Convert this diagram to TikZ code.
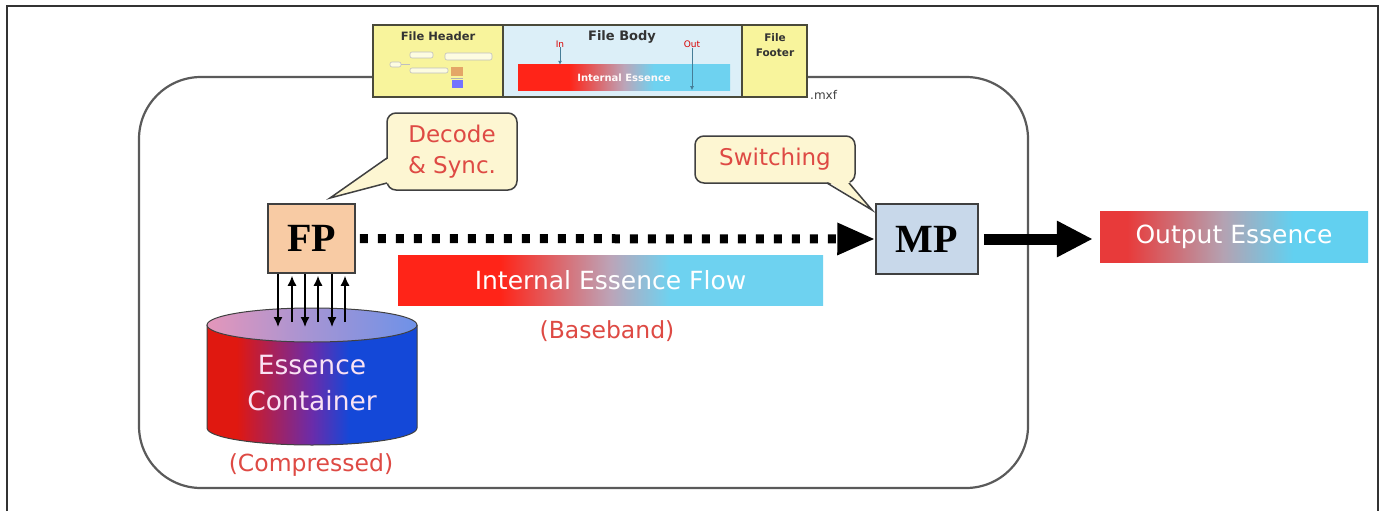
\documentclass[tikz,border=0pt]{standalone}
\usepackage{fontspec}
\setmainfont{DejaVu Sans}
\newfontfamily\timesfont{Liberation Serif}
\usetikzlibrary{arrows.meta,calc}

% palette
\definecolor{frameline}{HTML}{333333}
\definecolor{roundline}{HTML}{5A5A5A}
\definecolor{fpfill}{HTML}{F8CBA4}
\definecolor{mpfill}{HTML}{C8D8EA}
\definecolor{boxline}{HTML}{404040}
\definecolor{calloutfill}{HTML}{FDF6D2}
\definecolor{labelred}{HTML}{DE4A44}
\definecolor{hdrfill}{HTML}{F8F49C}
\definecolor{bodyfill}{HTML}{DCEFF8}
\definecolor{barline}{HTML}{4A4A3A}
\definecolor{fred}{HTML}{FF2418}
\definecolor{fmid}{HTML}{BCA4B8}
\definecolor{fcyan}{HTML}{6ED2F0}
\definecolor{ored}{HTML}{E83A3A}
\definecolor{omid}{HTML}{B4A2B2}
\definecolor{ocyan}{HTML}{62D0F0}
\definecolor{cred}{HTML}{E01810}
\definecolor{cpurple}{HTML}{6A2CAA}
\definecolor{cblue}{HTML}{1448D8}
\definecolor{ctopl}{HTML}{E496BA}
\definecolor{ctopm}{HTML}{A494D4}
\definecolor{ctopr}{HTML}{6E92E8}
\definecolor{esstext}{HTML}{FAE2F4}

% horizontal colour ramps (path box maps onto 25bp..75bp)
\pgfdeclarehorizontalshading{flowshade}{100bp}{color(0bp)=(fred); color(25bp)=(fred); color(37bp)=(fred); color(50bp)=(fmid); color(57bp)=(fcyan); color(75bp)=(fcyan); color(100bp)=(fcyan)}
\pgfdeclarehorizontalshading{outshade}{100bp}{color(0bp)=(ored); color(25bp)=(ored); color(30bp)=(ored); color(48bp)=(omid); color(61bp)=(ocyan); color(75bp)=(ocyan); color(100bp)=(ocyan)}
\pgfdeclarehorizontalshading{cylshade}{100bp}{color(0bp)=(cred); color(25bp)=(cred); color(32bp)=(cred); color(50bp)=(cpurple); color(59bp)=(cblue); color(75bp)=(cblue); color(100bp)=(cblue)}
\pgfdeclarehorizontalshading{cyltopshade}{100bp}{color(0bp)=(ctopl); color(25bp)=(ctopl); color(50bp)=(ctopm); color(75bp)=(ctopr); color(100bp)=(ctopr)}

\tikzset{
  procbox/.style={draw=boxline, line width=1.5pt, inner sep=0pt,
    font=\timesfont\bfseries\fontsize{40}{40}\selectfont},
  calloutbox/.style={draw=boxline, fill=calloutfill, line width=1.5pt,
    rounded corners=9pt, inner sep=0pt, align=center, text=labelred,
    font=\fontsize{23}{31}\selectfont},
  rampbar/.style={inner sep=0pt, text=white, font=\fontsize{25}{25}\selectfont},
  redlabel/.style={text=labelred, font=\fontsize{23.5}{23.5}\selectfont},
  filepart/.style={draw=barline, line width=1.5pt, inner sep=0pt,
    minimum height=72pt},
  parttitle/.style={text=black!80, font=\bfseries\fontsize{11.5}{14}\selectfont, align=center},
  ioarrow/.style={line width=1.5pt, -{Latex[length=10pt,width=9pt]}},
  tinybox/.style={draw=black!25, line width=0.6pt, rounded corners=2pt, fill=white!70!hdrfill}
}

\begin{document}
\begin{tikzpicture}[x=1pt,y=-1pt]
\useasboundingbox (0,0) rectangle (1383,511);
\fill[white] (0,0) rectangle (1383,511);

% page frame, open at the bottom
\draw[frameline, line width=2pt] (7,511) -- (7,6) -- (1378,6) -- (1378,511);

% enclosing rounded panel
\draw[roundline, line width=2.2pt, rounded corners=62pt] (139,77) rectangle (1028,488);

% ---- MXF file layout strip ----
\node[filepart, fill=hdrfill, minimum width=130pt] (hdr) at (438,61) {};
\node[filepart, fill=bodyfill, minimum width=239pt] (body) at (622.5,61) {};
\node[filepart, fill=hdrfill, minimum width=65pt] (ftr) at (774.5,61) {};
\node[parttitle] (hdrtitle) at (438,36) {File Header};
\node[parttitle, font=\bfseries\fontsize{13}{14}\selectfont] (bodytitle) at (622,37) {File Body};
\node[parttitle, font=\bfseries\fontsize{10.5}{15}\selectfont] (ftrtitle) at (775,45) {File\\Footer};
\node[anchor=north west, inner sep=0pt, text=black!75, font=\fontsize{12}{12}\selectfont] (ext) at (810,90) {.mxf};

% header index sketch
\draw[tinybox] (390,62) rectangle (401,67);
\draw[black!25, line width=0.6pt] (401,64.5) -- (410,64.5);
\draw[tinybox] (410,52) rectangle (433,58);
\draw[tinybox] (445,53) rectangle (492,60);
\draw[tinybox] (410,68) rectangle (448,73);
\fill[fill=brown!60!orange!70!white] (451,67) rectangle (463,76);
\fill[fill=blue!55!white] (452,80) rectangle (463,88);
\draw[black!30, line width=0.6pt] (451,78) -- (463,78);

% essence run inside the body
\node[rampbar, shading=flowshade, minimum width=212pt, minimum height=25pt,
  font=\bfseries\fontsize{10}{10}\selectfont, text=white!90!pink] (mini) at (624,77.5) {Internal Essence};
\node[text=red!85!black, inner sep=0pt, font=\fontsize{9}{9}\selectfont] (inlbl) at (560,44) {In};
\node[text=red!85!black, inner sep=0pt, font=\fontsize{9}{9}\selectfont] (outlbl) at (692,44) {Out};
\draw[black!45!cyan, line width=1pt, -{Latex[length=4pt,width=4pt]}] (inlbl.south) -- (inlbl.south |- mini.north);
\draw[black!45!cyan, line width=1pt, -{Latex[length=4pt,width=4pt]}] (outlbl.south) -- (outlbl.south |- mini.south);

% ---- essence container (cylinder) ----
\path[shading=cylshade] (207,325) -- (207,428)
  arc[start angle=180, end angle=0, x radius=105, y radius=17] -- (417,325) -- cycle;
\draw[boxline, line width=1pt] (207,325) -- (207,428)
  arc[start angle=180, end angle=0, x radius=105, y radius=17] -- (417,325);
\path[shading=cyltopshade, draw=boxline, line width=1pt] (312,325) ellipse[x radius=105, y radius=17];
\coordinate (ctop) at (311.5,325);
\node[text=esstext, align=center, font=\fontsize{26.5}{36}\selectfont] (cyl) at (312,383) {Essence\\Container};
\node[redlabel] (compressed) at (311,465) {(Compressed)};

% ---- processors ----
\node[procbox, fill=fpfill, minimum width=87pt, minimum height=69pt] (fp) at (311.5,238.5) {FP};
\node[procbox, fill=mpfill, minimum width=102pt, minimum height=70pt] (mp) at (927,239) {MP};

% read / write lanes between FP and the container
\foreach \dx in {-33.5,-6.5,20.5}
  \draw[ioarrow] ([xshift=\dx pt]fp.south) -- ([xshift=\dx pt, yshift=-2pt]ctop);
\foreach \dx in {-19.5,6.5,33.5}
  \draw[ioarrow] ([xshift=\dx pt, yshift=3pt]ctop) -- ([xshift=\dx pt, yshift=-2pt]fp.south);

% ---- callouts ----
\node[calloutbox, minimum width=130pt, minimum height=77pt] (dec) at (452,151.5) {Decode\\\& Sync.};
\fill[calloutfill] (389,158) -- (330,198) -- (389,183) -- cycle;
\draw[boxline, line width=1.5pt] (387,158) -- (330,198) -- (387,183);

\node[calloutbox, minimum width=160pt, minimum height=47pt] (sw) at (775,159.5) {Switching};
\fill[calloutfill] (827,181) -- (872,210) -- (849,181) -- cycle;
\draw[boxline, line width=1.5pt] (827,183) -- (872,210) -- (849,183);

% ---- essence flow ----
\draw[line width=9pt, dash pattern=on 8pt off 10pt, -{Triangle[length=38pt,width=30pt]}]
  ([xshift=4pt]fp.east) -- (mp.west);
\node[rampbar, shading=flowshade, minimum width=425pt, minimum height=50pt] (flow) at (610.5,280) {Internal Essence Flow};
\node[redlabel] (baseband) at (607,331) {(Baseband)};

\node[rampbar, shading=outshade, minimum width=268pt, minimum height=51pt] (out) at (1234,236.5) {Output Essence};
\draw[line width=11pt, -{Triangle[length=36pt,width=34pt]}, shorten <=5pt, shorten >=7pt]
  (mp.east) -- (mp.east -| out.west);
\end{tikzpicture}
\end{document}
